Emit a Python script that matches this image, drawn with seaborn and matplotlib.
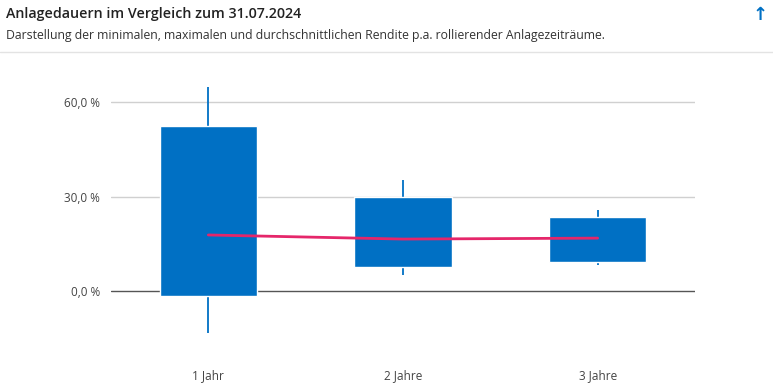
import numpy as np
import pandas as pd
import seaborn as sns
import matplotlib.pyplot as plt
from matplotlib.lines import Line2D

# values (% p.a.)
periods = ["1 Jahr", "2 Jahre", "3 Jahre"]
min_ret = [-13.3, 5.1, 8.3]
box_low = [-1.6, 7.7, 9.3]
box_high = [52.4, 29.8, 23.5]
max_ret = [64.8, 35.2, 25.7]
avg_ret = [17.8, 16.5, 16.8]
y_ticks = [0, 30, 60]

blue = "#0070c4"
pink = "#e5266a"

sns.set_theme(style="white")
plt.rcParams["font.family"] = ["Open Sans", "DejaVu Sans"]

df = pd.DataFrame({"period": periods,
                   "span": np.array(box_high) - np.array(box_low)})

fig = plt.figure(figsize=(7.73, 3.85), dpi=100)
ax = fig.add_axes([111 / 773, 1 - 345 / 385, 584 / 773, 285 / 385])

# whiskers behind the boxes
ax.vlines(range(len(periods)), min_ret, max_ret, color=blue, lw=1.3, zorder=2)
sns.barplot(data=df, x="period", y="span", bottom=box_low, color=blue,
            saturation=1, width=0.5, ax=ax, zorder=3)
sns.lineplot(x=periods, y=avg_ret, color=pink, lw=2, ax=ax, zorder=4)

ax.set_xlim(-0.5, 2.5)
ax.set_ylim(-17.1, 73.3)
ax.set_yticks(y_ticks)
ax.set_yticklabels([f"{v:.1f} %".replace(".", ",") for v in y_ticks])
for v in y_ticks:
    if v == 0:
        ax.axhline(v, color="#555555", lw=1, zorder=1)
    else:
        ax.axhline(v, color="#d0d0d0", lw=1, zorder=1)
ax.set_xlabel("")
ax.set_ylabel("")
sns.despine(ax=ax, left=True, bottom=True)
ax.tick_params(axis="y", length=0, pad=8, labelsize=8.5, labelcolor="#444444")
ax.tick_params(axis="x", length=0, pad=17, labelsize=8.5, labelcolor="#444444")

fig.text(6 / 773, 1 - 14 / 385, "Anlagedauern im Vergleich zum 31.07.2024",
         fontsize=10.3, fontweight="semibold", color="#222222", va="center")
fig.text(6 / 773, 1 - 35 / 385,
         "Darstellung der minimalen, maximalen und durchschnittlichen Rendite p.a. rollierender Anlagezeiträume.",
         fontsize=8.8, color="#333333", va="center")
fig.text(760 / 773, 1 - 15 / 385, "↑", family="DejaVu Sans", fontsize=13,
         fontweight="bold", color=blue, ha="center", va="center")
fig.add_artist(Line2D([0, 1], [1 - 52 / 385] * 2, color="#e3e3e3", lw=1))

fig.savefig("out.png", dpi=100)
